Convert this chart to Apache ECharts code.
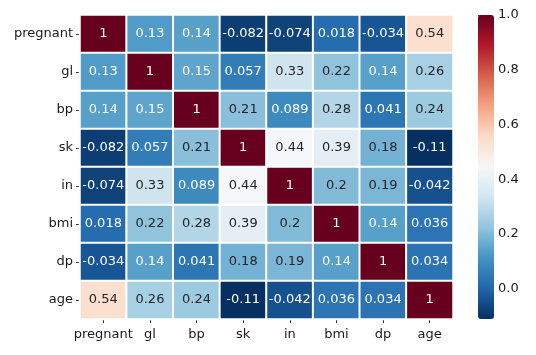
<!DOCTYPE html>
<html>
<head>
<meta charset="utf-8">
<script src="https://cdn.jsdelivr.net/npm/echarts@6/dist/echarts.min.js"></script>
<style>
    html, body { margin: 0; padding: 0; background: #fff; }
    #heat { width: 536px; height: 355px; }
</style>
</head>
<body>
<div id="heat"></div>
<script>
const labels = ['pregnant', 'gl', 'bp', 'sk', 'in', 'bmi', 'dp', 'age']

// correlation rows, top to bottom
const rowPregnant = [1, 0.13, 0.14, -0.082, -0.074, 0.018, -0.034, 0.54]
const rowGl = [0.13, 1, 0.15, 0.057, 0.33, 0.22, 0.14, 0.26]
const rowBp = [0.14, 0.15, 1, 0.21, 0.089, 0.28, 0.041, 0.24]
const rowSk = [-0.082, 0.057, 0.21, 1, 0.44, 0.39, 0.18, -0.11]
const rowIn = [-0.074, 0.33, 0.089, 0.44, 1, 0.2, 0.19, -0.042]
const rowBmi = [0.018, 0.22, 0.28, 0.39, 0.2, 1, 0.14, 0.036]
const rowDp = [-0.034, 0.14, 0.041, 0.18, 0.19, 0.14, 1, 0.034]
const rowAge = [0.54, 0.26, 0.24, -0.11, -0.042, 0.036, 0.034, 1]

const colorbarTicks = [0, 0.2, 0.4, 0.6, 0.8, 1.0]
const vMin = -0.11
const vMax = 1

// RdBu reversed, low -> high
const rdbu = ['#053061', '#2166ac', '#4393c3', '#92c5de', '#d1e5f0', '#f7f7f7',
    '#fddbc7', '#f4a582', '#d6604d', '#b2182b', '#67001f']

const rows = [rowPregnant, rowGl, rowBp, rowSk, rowIn, rowBmi, rowDp, rowAge]
let cells = []
rows.forEach((row, y) => {
    row.forEach((v, x) => {
        let light = v > 0.17 && v < 0.8
        cells.push({
            value: [x, y, v],
            label: { color: light ? '#262626' : '#ffffff' }
        })
    })
})

const font = 'DejaVu Sans'
const option = {
    animation: false,
    textStyle: { fontFamily: font },
    grid: [
        { left: 80, top: 15, width: 373, height: 304 },
        { left: 478, top: 15, width: 16, height: 304 }
    ],
    xAxis: [
        {
            type: 'category',
            gridIndex: 0,
            data: labels,
            axisLine: { show: false },
            axisTick: { show: true, alignWithLabel: true, interval: 0, length: 4, lineStyle: { color: '#333' } },
            axisLabel: { color: '#1a1a1a', fontSize: 13, margin: 9, interval: 0, fontFamily: font },
            splitLine: { show: false }
        },
        {
            type: 'value',
            gridIndex: 1,
            show: false
        }
    ],
    yAxis: [
        {
            type: 'category',
            gridIndex: 0,
            inverse: true,
            data: labels,
            axisLine: { show: false },
            axisTick: { show: true, alignWithLabel: true, interval: 0, length: 4, lineStyle: { color: '#333' } },
            axisLabel: { color: '#1a1a1a', fontSize: 13, margin: 7, interval: 0, fontFamily: font },
            splitLine: { show: false }
        },
        {
            type: 'value',
            gridIndex: 1,
            position: 'right',
            min: vMin,
            max: vMax,
            axisLine: { show: false },
            splitLine: { show: false },
            axisTick: { show: true, length: 4, lineStyle: { color: '#333' }, customValues: colorbarTicks },
            axisLabel: {
                color: '#1a1a1a', fontSize: 13, margin: 4, fontFamily: font,
                customValues: colorbarTicks,
                formatter: v => v.toFixed(1)
            }
        }
    ],
    visualMap: {
        type: 'continuous',
        seriesIndex: 0,
        min: vMin,
        max: vMax,
        calculable: false,
        orient: 'vertical',
        left: 478,
        top: 15,
        padding: 0,
        itemWidth: 16,
        itemHeight: 304,
        text: null,
        showLabel: false,
        inRange: { color: rdbu }
    },
    series: [
        {
            type: 'heatmap',
            xAxisIndex: 0,
            yAxisIndex: 0,
            data: cells,
            itemStyle: { borderColor: '#ffffff', borderWidth: 2 },
            label: {
                show: true,
                fontSize: 13,
                fontFamily: font,
                formatter: p => String(Number(p.value[2].toPrecision(2)))
            },
            emphasis: { disabled: true }
        }
    ]
}

const chart = echarts.init(document.getElementById('heat'))
chart.setOption(option)
</script>
</body>
</html>
